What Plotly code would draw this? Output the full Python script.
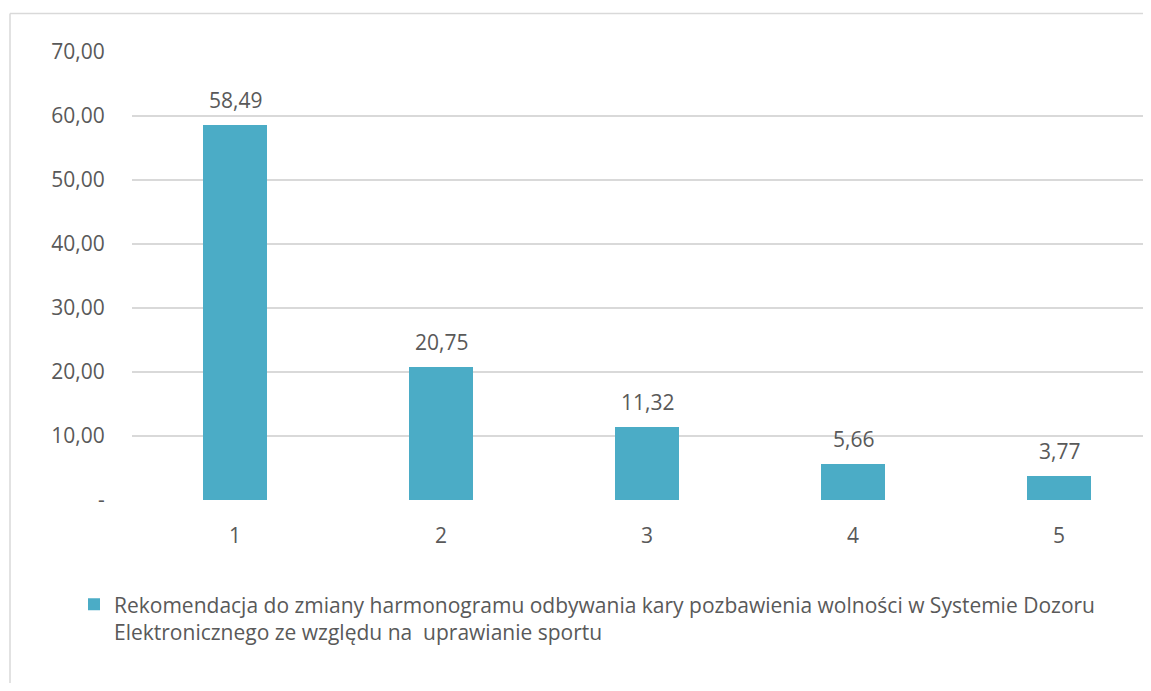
import plotly.graph_objects as go

categories = ["1", "2", "3", "4", "5"]
values = [58.49, 20.75, 11.32, 5.66, 3.77]
tick_vals = [0, 10, 20, 30, 40, 50, 60, 70]
tick_text = ["-", "10,00", "20,00", "30,00", "40,00", "50,00", "60,00", "70,00"]
series_name = ("Rekomendacja do zmiany harmonogramu odbywania kary pozbawienia wolności w Systemie Dozoru"
               "<br>Elektronicznego ze względu na  uprawianie sportu")

OFF = 8  # page body margin
W, H = 1151 - OFF, 691 - 2 * OFF
L, T = 132 - OFF, 52 - OFF
B = H - (500 - OFF)
plot_w = W - L
band = 206
xmax = -0.5 + plot_w / band
YMAX = 70.1

FONT = "Open Sans"
FS = 21
TXT = "#595959"

fig = go.Figure()
fig.add_trace(go.Bar(
    x=list(range(len(categories))), y=values, name=series_name,
    marker=dict(color="#4BACC6", line=dict(width=0)),
    width=0.31,
    showlegend=True,
))

for i, v in enumerate(values):
    fig.add_annotation(x=i, y=v, text=f"{v:.2f}".replace(".", ","), showarrow=False,
                       yanchor="bottom", yshift=9,
                       font=dict(family=FONT, size=FS, color=TXT))

fig.update_layout(
    width=W, height=H,
    margin=dict(l=L, r=0, t=T - (448 * (YMAX / 70) - 448), b=B),
    paper_bgcolor="white", plot_bgcolor="white",
    font=dict(family=FONT, size=FS, color=TXT),
    showlegend=True,
    legend=dict(orientation="h", x=(74 - 8 - L) / plot_w, y=(500 - 584) / 448,
                xanchor="left", yanchor="top", valign="top",
                font=dict(family=FONT, size=FS, color=TXT), bgcolor="rgba(0,0,0,0)"),
    xaxis=dict(range=[-0.5, xmax], tickvals=list(range(len(categories))), ticktext=categories,
               showgrid=False, zeroline=False, showline=False,
               ticks="outside", ticklen=17, tickcolor="rgba(0,0,0,0)",
               tickfont=dict(family=FONT, size=FS, color=TXT), fixedrange=True),
    yaxis=dict(range=[0, YMAX], tickvals=tick_vals, ticktext=tick_text,
               showgrid=True, gridcolor="#D9D9D9", gridwidth=1.5,
               zeroline=False, showline=False,
               ticks="outside", ticklen=22, tickcolor="rgba(0,0,0,0)",
               tickfont=dict(family=FONT, size=FS, color=TXT)),
    bargap=0,
)

# chart-area border (extends beyond the visible window on right/bottom)
ph = 448 * YMAX / 70
px = lambda p: (p - OFF - L) / plot_w
py = lambda p: (500 - p) / ph
fig.add_shape(type="line", xref="paper", yref="paper", x0=px(10), x1=px(10), y0=py(14), y1=py(720),
              line=dict(color="#D9D9D9", width=1.5))
fig.add_shape(type="line", xref="paper", yref="paper", x0=px(10), x1=px(1200), y0=py(14), y1=py(14),
              line=dict(color="#D9D9D9", width=1.5))

fig.write_html("out.html")
